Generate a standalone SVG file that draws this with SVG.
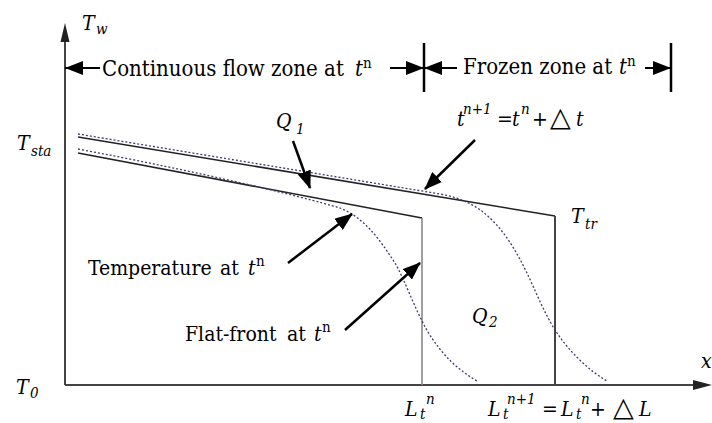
<svg xmlns="http://www.w3.org/2000/svg" width="712" height="423" viewBox="0 0 712 423">
<style>
  text { font-family: "DejaVu Serif Condensed", "DejaVu Serif", serif; font-stretch: condensed; fill: #000; }
  .lbl { font-size: 21px; }
  .hdr { font-size: 22px; }
  .it { font-style: italic; }
  .sub { font-size: 15px; font-style: italic; }
  .sup { font-size: 15px; }
  text.tri { font-family: "DejaVu Sans", sans-serif; font-size: 27px; font-stretch: normal; }
  .axis { stroke: #444; stroke-width: 2; fill: none; }
  .solid { stroke: #222; stroke-width: 1.6; fill: none; }
  .dot { stroke: #3c3c70; stroke-width: 1.3; stroke-dasharray: 2 2; fill: none; }
  .ptr { stroke: #000; stroke-width: 2.5; fill: none; }
  .dim { stroke: #000; stroke-width: 2; fill: none; }
  .tick { stroke: #000; stroke-width: 2.5; }
</style>
<defs>
  <marker id="head" viewBox="0 0 18 14" refX="17" refY="7" markerWidth="18" markerHeight="14" markerUnits="userSpaceOnUse" orient="auto">
    <path d="M0,0 L18,7 L0,14 z" fill="#000"/>
  </marker>
  <marker id="dhead" viewBox="0 0 18 14" refX="18" refY="7" markerWidth="18" markerHeight="14" markerUnits="userSpaceOnUse" orient="auto">
    <path d="M0,0 L18,7 L0,14 z" fill="#000"/>
  </marker>
</defs>
<rect width="712" height="423" fill="#fff"/>

<g id="axes">
  <line class="axis" x1="65" y1="385" x2="65" y2="40"/>
  <polygon points="65,23 69.5,42 60.5,42" fill="#222"/>
  <line class="axis" x1="65" y1="385" x2="696" y2="385"/>
  <polygon points="712,385 693,380 693,390" fill="#222"/>
</g>

<g id="profiles">
  <path class="solid" d="M78,137 L555,216"/>
  <line x1="555" y1="216" x2="555" y2="385" stroke="#444" stroke-width="2"/>
  <path class="solid" d="M78,153 L422,218"/>
  <line x1="422" y1="218" x2="422" y2="385" stroke="#888" stroke-width="1.6"/>
  <path class="dot" d="M78,134 L440,194 C462,198 478,206 492,220 C508,236 518,255 527,273 C536,292 545,315 557,333 C570,352 588,370 607,381"/>
  <path class="dot" d="M78,149 C200,172 300,196 340,208 C365,218 380,240 395,263 C405,280 415,310 428,332 C442,355 458,370 477,381"/>
</g>

<g id="zone-dimension">
  <line class="dim" x1="100" y1="68" x2="65" y2="68" marker-end="url(#dhead)"/>
  <line class="dim" x1="390" y1="68" x2="424" y2="68" marker-end="url(#dhead)"/>
  <line class="dim" x1="457" y1="68" x2="424" y2="68" marker-end="url(#dhead)"/>
  <line class="dim" x1="645" y1="68" x2="671" y2="68" marker-end="url(#dhead)"/>
  <line class="tick" x1="424" y1="43" x2="424" y2="92"/>
  <line class="tick" x1="671" y1="43" x2="671" y2="92"/>
</g>

<g id="connectors">
  <line class="ptr" x1="293" y1="141" x2="310" y2="188" marker-end="url(#head)"/>
  <line class="ptr" x1="475" y1="140" x2="425" y2="189" marker-end="url(#head)"/>
  <line class="ptr" x1="288" y1="263" x2="352" y2="214" marker-end="url(#head)"/>
  <line class="ptr" x1="345" y1="330" x2="420" y2="263" marker-end="url(#head)"/>
</g>

<g id="label-Tw">
  <text class="lbl it" x="82" y="30">T</text>
  <text class="sub" x="96" y="34">w</text>
</g>
<g id="label-continuous">
  <text class="hdr" x="102" y="76">Continuous flow zone at</text>
  <text class="hdr it" x="355" y="76">t</text>
  <text class="sup" x="363" y="68">n</text>
</g>
<g id="label-frozen">
  <text class="hdr" x="463" y="74">Frozen zone at</text>
  <text class="hdr it" x="619" y="74">t</text>
  <text class="sup" x="627" y="66">n</text>
</g>
<g id="label-Tsta">
  <text class="lbl it" x="17" y="150">T</text>
  <text class="sub" x="31" y="156">sta</text>
</g>
<g id="label-Q1">
  <text class="lbl it" x="276" y="128">Q</text>
  <text class="sub" x="296" y="134">1</text>
</g>
<g id="label-tn1">
  <text class="lbl it" x="457" y="126">t</text>
  <text class="sub" x="463" y="114">n+1</text>
  <text class="lbl" x="497" y="126">=</text>
  <text class="lbl it" x="512" y="126">t</text>
  <text class="sub" x="521" y="114">n</text>
  <text class="lbl" x="532" y="126">+</text>
  <text class="tri" x="550" y="126">△</text>
  <text class="lbl it" x="576" y="126">t</text>
</g>
<g id="label-Ttr">
  <text class="lbl it" x="571" y="223">T</text>
  <text class="sub" x="585" y="229">tr</text>
</g>
<g id="label-temperature">
  <text class="lbl" x="88" y="275">Temperature</text>
  <text class="lbl" x="220" y="275">at</text>
  <text class="lbl it" x="248" y="275">t</text>
  <text class="sup" x="256" y="266">n</text>
</g>
<g id="label-flatfront">
  <text class="lbl" x="185" y="341">Flat-front</text>
  <text class="lbl" x="287" y="341">at</text>
  <text class="lbl it" x="314" y="341">t</text>
  <text class="sup" x="322" y="332">n</text>
</g>
<g id="label-Q2">
  <text class="lbl it" x="472" y="323">Q</text>
  <text class="sub" x="489" y="327">2</text>
</g>
<g id="label-T0">
  <text class="lbl it" x="16" y="394">T</text>
  <text class="sub" x="30" y="398">0</text>
</g>
<g id="label-x">
  <text class="lbl it" x="701" y="368">x</text>
</g>
<g id="label-Ltn">
  <text class="lbl it" x="405" y="416">L</text>
  <text class="sub" x="420" y="419">t</text>
  <text class="sub" x="426" y="404">n</text>
</g>
<g id="label-Ltn1">
  <text class="lbl it" x="488" y="416">L</text>
  <text class="sub" x="503" y="419">t</text>
  <text class="sub" x="507" y="404">n+1</text>
  <text class="lbl" x="542" y="416">=</text>
  <text class="lbl it" x="561" y="416">L</text>
  <text class="sub" x="576" y="419">t</text>
  <text class="sub" x="581" y="404">n</text>
  <text class="lbl" x="590" y="416">+</text>
  <text class="tri" x="613" y="416">△</text>
  <text class="lbl it" x="639" y="416">L</text>
</g>
</svg>
